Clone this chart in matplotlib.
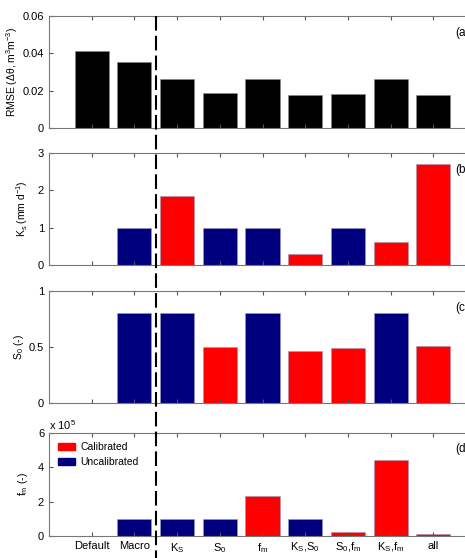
import matplotlib
matplotlib.use("Agg")
import matplotlib.pyplot as plt
from matplotlib.lines import Line2D
from matplotlib.patches import Patch

plt.rcParams['font.family'] = ['Liberation Sans', 'DejaVu Sans']
plt.rcParams['mathtext.default'] = 'regular'
plt.rcParams['font.size'] = 8

# Datos
labels = ['Default', 'Macro', '$K_S$', '$S_0$', '$f_m$', '$K_S$,$S_0$', '$S_0$,$f_m$', '$K_S$,$f_m$', 'all']
rmse = [0.041, 0.0355, 0.0265, 0.0188, 0.0265, 0.0178, 0.0180, 0.026, 0.0178]
# Paneles b-d: sin valor para "Default"
ks = [1.0, 1.85, 1.0, 1.0, 0.3, 1.0, 0.62, 2.7]
s0 = [0.8, 0.8, 0.5, 0.8, 0.46, 0.49, 0.8, 0.51]
fm = [1.0, 1.0, 1.0, 2.33, 1.0, 0.25, 4.4, 0.12]  # x 1e5
ks_cal = [0, 1, 0, 0, 1, 0, 1, 1]
s0_cal = [0, 0, 1, 0, 1, 1, 0, 1]
fm_cal = [0, 0, 0, 1, 0, 1, 1, 1]

RED = '#ff0000'
BLUE = '#00007f'

W, H = 465, 558
fig = plt.figure(figsize=(W / 100, H / 100), dpi=100)

left = 49 / W
width = 427 / W
boxes = [(16, 128), (153, 265), (291, 403), (433, 536)]
axes = []
for top, bot in boxes:
    ax = fig.add_axes([left, 1 - bot / H, width, (bot - top) / H])
    axes.append(ax)

x_all = list(range(1, 10))
x_b = x_all[1:]

axes[0].bar(x_all, rmse, width=0.8, color='black', edgecolor='#888888', linewidth=0.4)
axes[0].set_ylim(0, 0.06)
axes[0].set_yticks([0, 0.02, 0.04, 0.06])
axes[0].set_yticklabels(['0', '0.02', '0.04', '0.06'])
axes[0].set_ylabel(r'RMSE ($\Delta\theta$, m$^3$m$^{-3}$)', fontsize=7.5, labelpad=2)

for ax, vals, cal in [(axes[1], ks, ks_cal), (axes[2], s0, s0_cal), (axes[3], fm, fm_cal)]:
    cols = [RED if c else BLUE for c in cal]
    ax.bar(x_b, vals, width=0.8, color=cols, edgecolor='#9999bb', linewidth=0.4)

axes[1].set_ylim(0, 3)
axes[1].set_yticks([0, 1, 2, 3])
axes[1].set_ylabel('$K_s$ (mm d$^{-1}$)', fontsize=7.5, labelpad=6)
axes[2].set_ylim(0, 1)
axes[2].set_yticks([0, 0.5, 1])
axes[2].set_yticklabels(['0', '0.5', '1'])
axes[2].set_ylabel('$S_0$ (-)', fontsize=7.5, labelpad=2)
axes[3].set_ylim(0, 6)
axes[3].set_yticks([0, 2, 4, 6])
axes[3].set_ylabel('$f_m$ (-)', fontsize=7.5, labelpad=6)
axes[3].text(0.0, 1.01, r'x 10$^5$', transform=axes[3].transAxes, ha='left', va='bottom', fontsize=8)

for ax, tag in zip(axes, ['(a)', '(b)', '(c)', '(d)']):
    ax.set_xlim(0, 10)
    ax.set_xticks(x_all)
    ax.tick_params(direction='in', top=True, right=True, length=3, color='#555555', labelsize=8)
    for s in ax.spines.values():
        s.set_color('#777777')
        s.set_linewidth(0.8)
    ax.text(0.952, 0.9, tag, transform=ax.transAxes, ha='left', va='top', fontsize=8.5)

for ax in axes[:3]:
    ax.set_xticklabels([])
axes[3].set_xticklabels(labels)

axes[3].legend(handles=[Patch(color=RED, label='Calibrated'), Patch(color=BLUE, label='Uncalibrated')],
               loc='upper left', frameon=False, fontsize=7.5, handlelength=1.6, handleheight=0.7,
               handletextpad=0.5, borderaxespad=0.5, labelspacing=0.45)

# Línea discontinua vertical que cruza todos los paneles
xf = left + 2.5 / 10 * width
fig.add_artist(Line2D([xf, xf], [1 - 16 / H, 0], color='black', linewidth=1.5,
                      linestyle=(0, (7, 2.5)), transform=fig.transFigure))

fig.savefig('out.png', dpi=100)
